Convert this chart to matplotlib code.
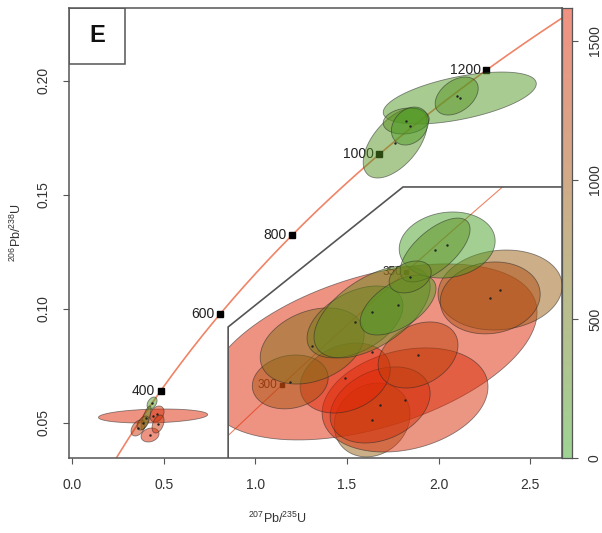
import numpy as np
import matplotlib
matplotlib.use('Agg')
import matplotlib.pyplot as plt
from matplotlib.patches import Polygon, Rectangle
from matplotlib.transforms import Affine2D

plt.rcParams['font.family'] = ['Liberation Sans', 'DejaVu Sans']
plt.rcParams['mathtext.fontset'] = 'custom'
plt.rcParams['mathtext.rm'] = 'Liberation Sans'

# decay constants (1/Myr)
L238 = 1.55125e-4
L235 = 9.8485e-4

# concordia age ticks
main_ages = [400, 600, 800, 1000, 1200]
inset_ages = [300, 350]

# main panel ellipses: centre, half-extent x/y, correlation, colour level
main_x = [0.441, 0.4355, 0.4027, 0.4628, 0.3590, 0.4245, 0.3863, 0.4683,
          2.1157, 2.099, 1.7632, 1.8233, 1.8436]
main_y = [0.05294, 0.05864, 0.05206, 0.05382, 0.04768, 0.04461, 0.04987, 0.04943,
          0.19241, 0.19329, 0.17268, 0.18233, 0.18013]
main_sx = [0.298, 0.0273, 0.0273, 0.0382, 0.0382, 0.0492, 0.0328, 0.0328,
           0.418, 0.1175, 0.1748, 0.1257, 0.1011]
main_sy = [0.00307, 0.00263, 0.00526, 0.00351, 0.00351, 0.00307, 0.00307, 0.00395,
           0.0114, 0.00833, 0.01535, 0.0057, 0.00833]
main_rho = [0.2, 0.4, 0.75, 0.3, 0.4, 0.2, 0.5, 0.4, 0.55, 0.4, 0.55, 0.15, 0.25]
main_lev = [1550, 200, 320, 1450, 1350, 1550, 800, 1400, 200, 250, 250, 300, 150]

# inset (zoomed) ellipses, in ratio units
inset_x = [0.3930, 0.3930, 0.4110, 0.3974, 0.3783, 0.3483, 0.3603, 0.4629,
           0.4575, 0.4181, 0.3837, 0.3930, 0.4072, 0.4340, 0.4274, 0.4138]
inset_y = [0.05002, 0.04512, 0.04656, 0.04620, 0.04814, 0.04786, 0.05045, 0.05448,
           0.05391, 0.04980, 0.05218, 0.05290, 0.05340, 0.05772, 0.05736, 0.05542]
inset_sx = [0.0901, 0.0207, 0.0453, 0.0273, 0.0246, 0.0207, 0.0284, 0.0339,
            0.0273, 0.0218, 0.0262, 0.0317, 0.0207, 0.0262, 0.0191, 0.0115]
inset_sy = [0.00634, 0.00266, 0.00375, 0.00274, 0.00252, 0.00194, 0.00274, 0.00288,
            0.00259, 0.00238, 0.00259, 0.00331, 0.00216, 0.00238, 0.00230, 0.00115]
inset_rho = [0.45, 0.15, 0.25, 0.3, 0.25, 0.15, 0.3, 0.1, 0.1, 0.3, 0.45, 0.55, 0.55,
             0.12, 0.65, 0.3]
inset_lev = [1550, 880, 1500, 1450, 1600, 1050, 700, 900, 1100, 1250, 550, 380, 120,
             100, 300, 420]

LEV_MAX = 1618
LOW = np.array([0.24, 0.66, 0.16])
HIGH = np.array([0.90, 0.14, 0.02])
ALPHA = 0.5
CONC = '#ef8466'
GREY = '#555555'
TXT = '#333333'


def level_rgb(v):
    t = np.clip(v / LEV_MAX, 0, 1)
    return LOW * (1 - t) + HIGH * t


def concordia(t):
    return np.exp(L235 * t) - 1, np.exp(L238 * t) - 1


def draw_ellipses(ax, xs, ys, sxs, sys_, rhos, levs, trans, clip=None):
    th = np.linspace(0, 2 * np.pi, 120)
    for x, y, sx, sy, r, lv in zip(xs, ys, sxs, sys_, rhos, levs):
        ex = x + sx * np.cos(th)
        ey = y + sy * (r * np.cos(th) + np.sqrt(1 - r * r) * np.sin(th))
        p = Polygon(np.column_stack([ex, ey]), closed=True, transform=trans,
                    facecolor=(*level_rgb(lv), ALPHA), edgecolor=(0.15, 0.15, 0.15, 0.55),
                    lw=0.6, zorder=3)
        ax.add_patch(p)
        if clip is not None:
            p.set_clip_path(clip)
    d, = ax.plot(xs, ys, '.', ms=1.5, color='#222222', transform=trans, zorder=4)
    if clip is not None:
        d.set_clip_path(clip)


fig = plt.figure(figsize=(6.02, 5.33), dpi=100)
W, H = 602, 533
ax = fig.add_axes([69 / W, (H - 458.3) / H, (562 - 69) / W, (458.3 - 8) / H])
ax.set_xlim(-0.018, 2.674)
ax.set_ylim(0.03439, 0.2319)

# main concordia
t = np.linspace(150, 1400, 600)
cx, cy = concordia(t)
ax.plot(cx, cy, color=CONC, lw=1.2, zorder=1)
mx, my = concordia(np.array(main_ages, dtype=float))
ax.plot(mx, my, 's', color='black', ms=4, zorder=2)
for a, x, y in zip(main_ages, mx, my):
    ax.annotate(str(a), (x, y), xytext=(-4, 0), textcoords='offset points',
                ha='right', va='center', fontsize=10, color='#222222', zorder=2)

draw_ellipses(ax, main_x, main_y, main_sx, main_sy, main_rho, main_lev, ax.transData)

# inset region
poly = [(0.851, 0.0344), (0.851, 0.092), (1.806, 0.1534), (2.674, 0.1534), (2.674, 0.0344)]
clip = Polygon(poly, closed=True, transform=ax.transData)
tin = Affine2D().translate(-0.3144, -0.04236).scale(10.0, 6.09).translate(0.851, 0.0344) + ax.transData

ti = np.linspace(250, 420, 300)
ix, iy = concordia(ti)
ln, = ax.plot(ix, iy, color=CONC, lw=0.8, transform=tin, zorder=1)
ln.set_clip_path(clip)
ax_, ay_ = concordia(np.array(inset_ages, dtype=float))
ax.plot(ax_, ay_, 's', color='black', ms=3.5, transform=tin, zorder=2)
for a, x, y in zip(inset_ages, ax_, ay_):
    ax.annotate(str(a), (x, y), xycoords=tin, xytext=(-3, 0), textcoords='offset points',
                ha='right', va='center', fontsize=8.5, color='#222222', zorder=2)

draw_ellipses(ax, inset_x, inset_y, inset_sx, inset_sy, inset_rho, inset_lev, tin, clip)

px, py = zip(*poly[:4])
ax.plot(px, py, color=GREY, lw=1.2, zorder=5, solid_joinstyle='miter')

# panel letter box
bw, bh = 56 / 493, 56 / 450.3
ax.add_patch(Rectangle((0, 1 - bh), bw, bh, transform=ax.transAxes, fill=False,
                       ec=GREY, lw=1.1, zorder=6))
ax.text(bw / 2, 1 - bh / 2, 'E', transform=ax.transAxes, ha='center', va='center',
        fontsize=17, fontweight='bold', color='#111111', zorder=6)

for s in ax.spines.values():
    s.set_color(GREY)
    s.set_linewidth(1.1)
ax.set_xticks([0, 0.5, 1.0, 1.5, 2.0, 2.5])
ax.set_xticklabels(['0.0', '0.5', '1.0', '1.5', '2.0', '2.5'])
ax.set_yticks([0.05, 0.10, 0.15, 0.20])
ax.set_yticklabels(['0.05', '0.10', '0.15', '0.20'], rotation=90, va='center')
ax.tick_params(axis='both', direction='out', length=4.5, width=0.8, color=GREY,
               labelsize=10, labelcolor=TXT)
ax.tick_params(axis='x', pad=10)
ax.tick_params(axis='y', pad=8.5)

fig.text(278 / W, 1 - 518 / H, r'$^{207}$Pb/$^{235}$U', ha='center', va='center',
         fontsize=9, color=TXT)
fig.text(16 / W, 1 - 232 / H, r'$^{206}$Pb/$^{238}$U', ha='center', va='center',
         fontsize=9, color=TXT, rotation=90)

# colour bar
cax = fig.add_axes([562 / W, (H - 458.3) / H, 10 / W, (458.3 - 8) / H])
lv = np.linspace(0, LEV_MAX, 256)
rgb = np.array([1 - ALPHA * (1 - level_rgb(v)) for v in lv])
cax.imshow(rgb[:, None, :], aspect='auto', origin='lower', extent=[0, 1, 0, LEV_MAX])
cax.set_xticks([])
cax.yaxis.tick_right()
cax.set_yticks([0, 500, 1000, 1500])
cax.set_yticklabels(['0', '500', '1000', '1500'], rotation=90, va='center')
cax.tick_params(axis='y', direction='out', length=4.5, width=0.8, color=GREY,
                labelsize=10, labelcolor=TXT, pad=7)
for s in cax.spines.values():
    s.set_color(GREY)
    s.set_linewidth(0.9)

fig.savefig('out.png', dpi=100)
